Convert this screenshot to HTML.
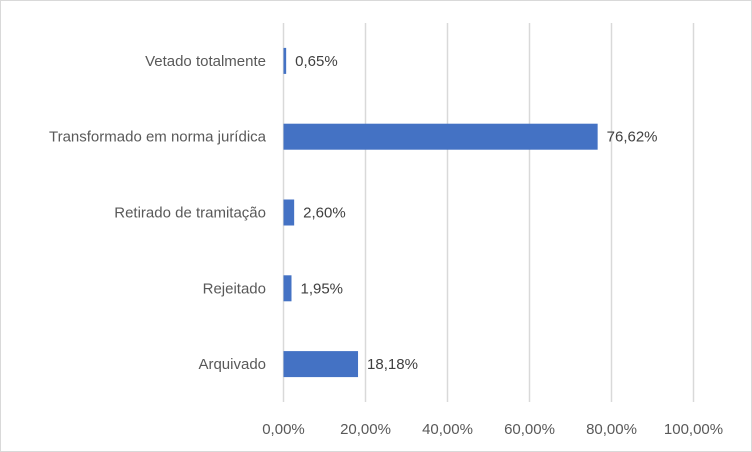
<!DOCTYPE html>
<html><head><meta charset="utf-8"><style>
body{margin:0;background:#fff;}
svg{display:block;font-family:"Liberation Sans",Calibri,sans-serif;}
</style></head><body>
<svg width="752" height="452">
<rect x="0.5" y="0.5" width="751" height="451" fill="#fff" stroke="#d9d9d9"/>
<g id="grid"></g><g id="bars"></g><g id="labels"></g>
</svg>
<script>
const categories=["Vetado totalmente","Transformado em norma jurídica","Retirado de tramitação","Rejeitado","Arquivado"];
const values=[0.65,76.62,2.60,1.95,18.18];
const valueLabels=["0,65%","76,62%","2,60%","1,95%","18,18%"];
const ticks=[0,20,40,60,80,100];
const tickLabels=["0,00%","20,00%","40,00%","60,00%","80,00%","100,00%"];
const ns="http://www.w3.org/2000/svg";
const x0=283.5,x1=693.5,yTop=23,yBot=402;
const xs=v=>x0+(x1-x0)*v/100;
const band=(yBot-yTop)/categories.length;
const yc=i=>yTop+band*(i+0.5);
function mk(t,a,p){const e=document.createElementNS(ns,t);for(const k in a)e.setAttribute(k,a[k]);p.appendChild(e);return e;}
const g=document.getElementById('grid'),b=document.getElementById('bars'),l=document.getElementById('labels');
ticks.forEach((t,i)=>{
 const ln=mk('line',{x1:xs(t),x2:xs(t),y1:yTop,y2:yBot,stroke:'#d9d9d9','stroke-width':1.5},g);
 
 
 const tx=mk('text',{x:xs(t),y:434,'text-anchor':'middle','font-size':15,fill:'#595959'},l);
 tx.textContent=tickLabels[i];
 
 
});
categories.forEach((c,i)=>{
 const y=yc(i);
 const r=mk('rect',{x:x0,y:y-13,width:xs(values[i])-x0,height:26,fill:'#4472c4'},b);
 
 
 const ct=mk('text',{x:266,y:y+5,'text-anchor':'end','font-size':15,fill:'#595959'},l);
 ct.textContent=c;
 
 
 const vt=mk('text',{x:xs(values[i])+9,y:y+5,'font-size':15,fill:'#404040'},l);
 vt.textContent=valueLabels[i];
 
 
});
</script>
</body></html>
